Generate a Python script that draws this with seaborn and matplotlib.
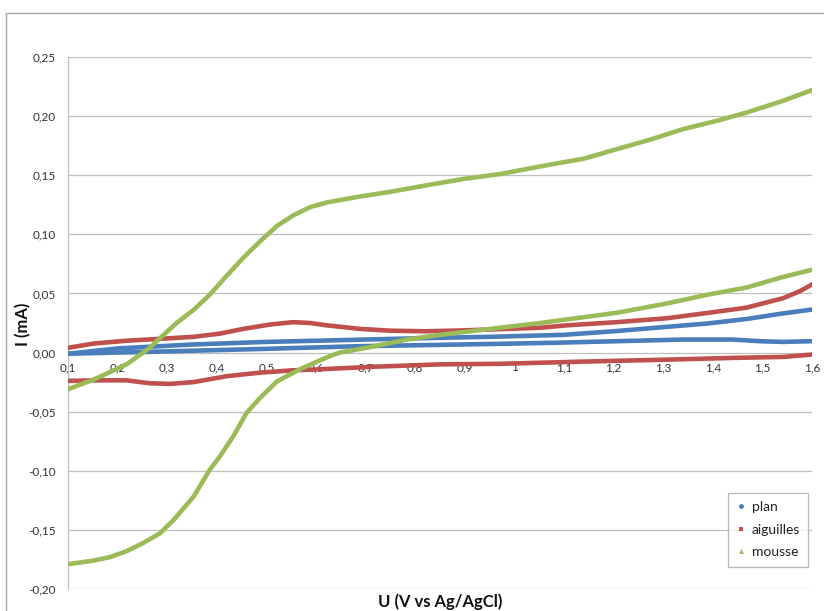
import matplotlib
matplotlib.use("Agg")
import matplotlib.pyplot as plt
import seaborn as sns
import pandas as pd
from matplotlib.lines import Line2D
from matplotlib.patches import Rectangle
from matplotlib.ticker import FuncFormatter

# ---------------- data ----------------
plan_U_fwd = [0.1, 0.2, 0.35, 0.5, 0.7, 0.85, 0.97, 1.1, 1.2, 1.3, 1.39, 1.47, 1.54, 1.6]
plan_I_fwd = [-0.001, 0.0035, 0.0068, 0.009, 0.011, 0.0125, 0.0135, 0.015, 0.018, 0.0215, 0.0246, 0.0285, 0.033, 0.0364]
plan_U_rev = [1.6, 1.54, 1.495, 1.44, 1.34, 1.206, 1.072, 0.971, 0.85, 0.689, 0.487, 0.3, 0.1]
plan_I_rev = [0.0096, 0.009, 0.0096, 0.011, 0.011, 0.0096, 0.0082, 0.0074, 0.0065, 0.0054, 0.003, 0.001, -0.001]

aig_U_fwd = [0.1, 0.151, 0.218, 0.285, 0.353, 0.406, 0.453, 0.507, 0.554, 0.588, 0.622, 0.689, 0.75, 0.82,
             0.884, 0.985, 1.052, 1.105, 1.206, 1.307, 1.391, 1.468, 1.542, 1.576, 1.6]
aig_I_fwd = [0.004, 0.0076, 0.010, 0.0116, 0.0133, 0.016, 0.020, 0.0237, 0.0257, 0.025, 0.023, 0.020, 0.0185, 0.018,
             0.0186, 0.020, 0.021, 0.023, 0.0257, 0.029, 0.0336, 0.038, 0.046, 0.052, 0.0576]
aig_U_rev = [1.6, 1.542, 1.442, 1.307, 1.173, 0.971, 0.85, 0.716, 0.615, 0.554, 0.487, 0.42, 0.353, 0.306,
             0.265, 0.218, 0.151, 0.1]
aig_I_rev = [-0.0017, -0.0037, -0.0045, -0.006, -0.0073, -0.0095, -0.010, -0.012, -0.014, -0.015, -0.017, -0.020,
             -0.025, -0.0265, -0.026, -0.0235, -0.0235, -0.024]

mou_U_fwd = [0.1, 0.151, 0.218, 0.265, 0.285, 0.319, 0.353, 0.386, 0.42, 0.453, 0.487, 0.521, 0.554, 0.588,
             0.622, 0.689, 0.75, 0.83, 0.9, 0.971, 1.072, 1.14, 1.206, 1.273, 1.34, 1.408, 1.468, 1.542, 1.6]
mou_I_fwd = [-0.031, -0.023, -0.010, 0.004, 0.012, 0.025, 0.036, 0.049, 0.065, 0.080, 0.094, 0.107, 0.116, 0.123,
             0.127, 0.132, 0.136, 0.142, 0.147, 0.151, 0.159, 0.164, 0.172, 0.180, 0.189, 0.196, 0.203, 0.213, 0.222]
mou_U_rev = [1.6, 1.542, 1.468, 1.39, 1.307, 1.206, 1.105, 1.052, 0.971, 0.85, 0.783, 0.702, 0.648, 0.628,
             0.595, 0.568, 0.521, 0.487, 0.46, 0.433, 0.406, 0.386, 0.353, 0.312, 0.285, 0.252, 0.218, 0.185,
             0.151, 0.1]
mou_I_rev = [0.070, 0.064, 0.055, 0.049, 0.0415, 0.0336, 0.028, 0.025, 0.021, 0.015, 0.011, 0.004, 0.000, -0.003,
             -0.009, -0.014, -0.0245, -0.0385, -0.051, -0.071, -0.088, -0.099, -0.122, -0.142, -0.153, -0.161,
             -0.168, -0.173, -0.176, -0.179]

series_names = ["plan", "aiguilles", "mousse"]
x_ticks = [0.1, 0.2, 0.3, 0.4, 0.5, 0.6, 0.7, 0.8, 0.9, 1.0, 1.1, 1.2, 1.3, 1.4, 1.5, 1.6]
y_ticks = [-0.20, -0.15, -0.10, -0.05, 0.00, 0.05, 0.10, 0.15, 0.20, 0.25]
x_title = "U (V vs Ag/AgCl)"
y_title = "I (mA)"

colors = {"plan": "#4A7EBB", "aiguilles": "#C0504D", "mousse": "#9BBB59"}
markers = {"plan": "o", "aiguilles": "s", "mousse": "^"}

branches = {
    "plan": [(plan_U_fwd, plan_I_fwd), (plan_U_rev, plan_I_rev)],
    "aiguilles": [(aig_U_fwd, aig_I_fwd), (aig_U_rev, aig_I_rev)],
    "mousse": [(mou_U_fwd, mou_I_fwd), (mou_U_rev, mou_I_rev)],
}

# ---------------- figure ----------------
sns.set_theme(style="white")
plt.rcParams["font.family"] = ["Lato", "DejaVu Sans"]

W, H = 824, 611
fig = plt.figure(figsize=(W / 100, H / 100), dpi=100)
ax = fig.add_axes([68 / W, 1 - 589 / H, (812 - 68) / W, (589 - 57) / H])

# outer chart border
fig.patches.append(Rectangle((6 / W, -0.1), 2.0, 1 - 13 / H + 0.1, transform=fig.transFigure,
                             fill=False, edgecolor="#A6A6A6", linewidth=1.0))

for name in series_names:
    frames = []
    for k, (U, I) in enumerate(branches[name]):
        frames.append(pd.DataFrame({"U": U, "I": I, "branch": k}))
    df = pd.concat(frames, ignore_index=True)
    sns.lineplot(data=df, x="U", y="I", units="branch", sort=False, estimator=None,
                 color=colors[name], linewidth=3.3, ax=ax, legend=False, zorder=3)

ax.set_xlim(0.1, 1.6)
ax.set_ylim(-0.20, 0.25)
ax.set_xticks(x_ticks)
ax.set_yticks(y_ticks)
ax.xaxis.set_major_formatter(FuncFormatter(lambda v, p: ("%g" % round(v, 2)).replace(".", ",")))
ax.yaxis.set_major_formatter(FuncFormatter(lambda v, p: ("%.2f" % v).replace(".", ",").replace("-0,00", "0,00")))
ax.grid(axis="y", color="#BFBFBF", linewidth=0.9, zorder=0)
ax.grid(axis="x", visible=False)
ax.set_axisbelow(True)

for s in ["top", "right"]:
    ax.spines[s].set_visible(False)
ax.spines["left"].set_color("#BFBFBF")
ax.spines["left"].set_linewidth(0.9)
ax.spines["bottom"].set_position(("data", 0))
ax.spines["bottom"].set_visible(False)

ax.tick_params(axis="x", length=0, pad=7, labelsize=8.5, colors="#333333")
ax.tick_params(axis="y", length=0, pad=9, labelsize=8.5, colors="#333333")
ax.set_xlabel("")
ax.set_ylabel("")

fig.text(23 / W, 1 - 324 / H, y_title, rotation=90, ha="center", va="center",
         fontsize=12, fontweight="bold", color="#111111")
fig.text(440 / W, 1.5 / H, x_title, ha="center", va="bottom",
         fontsize=12, fontweight="bold", color="#111111")

handles = [Line2D([], [], linestyle="none", marker=markers[n], markersize=3.5,
                  color=colors[n], markeredgewidth=0) for n in series_names]
leg = ax.legend(handles, series_names, loc="upper left",
                bbox_to_anchor=(728 / W, 1 - 493 / H), bbox_transform=fig.transFigure,
                fontsize=10, frameon=True, fancybox=False, handlelength=0.6,
                handletextpad=0.5, labelspacing=0.75, borderpad=0.6, borderaxespad=0)
leg.get_frame().set_edgecolor("#A6A6A6")
leg.get_frame().set_linewidth(0.9)
for t in leg.get_texts():
    t.set_color("#222222")

fig.savefig("out.png", dpi=100)
